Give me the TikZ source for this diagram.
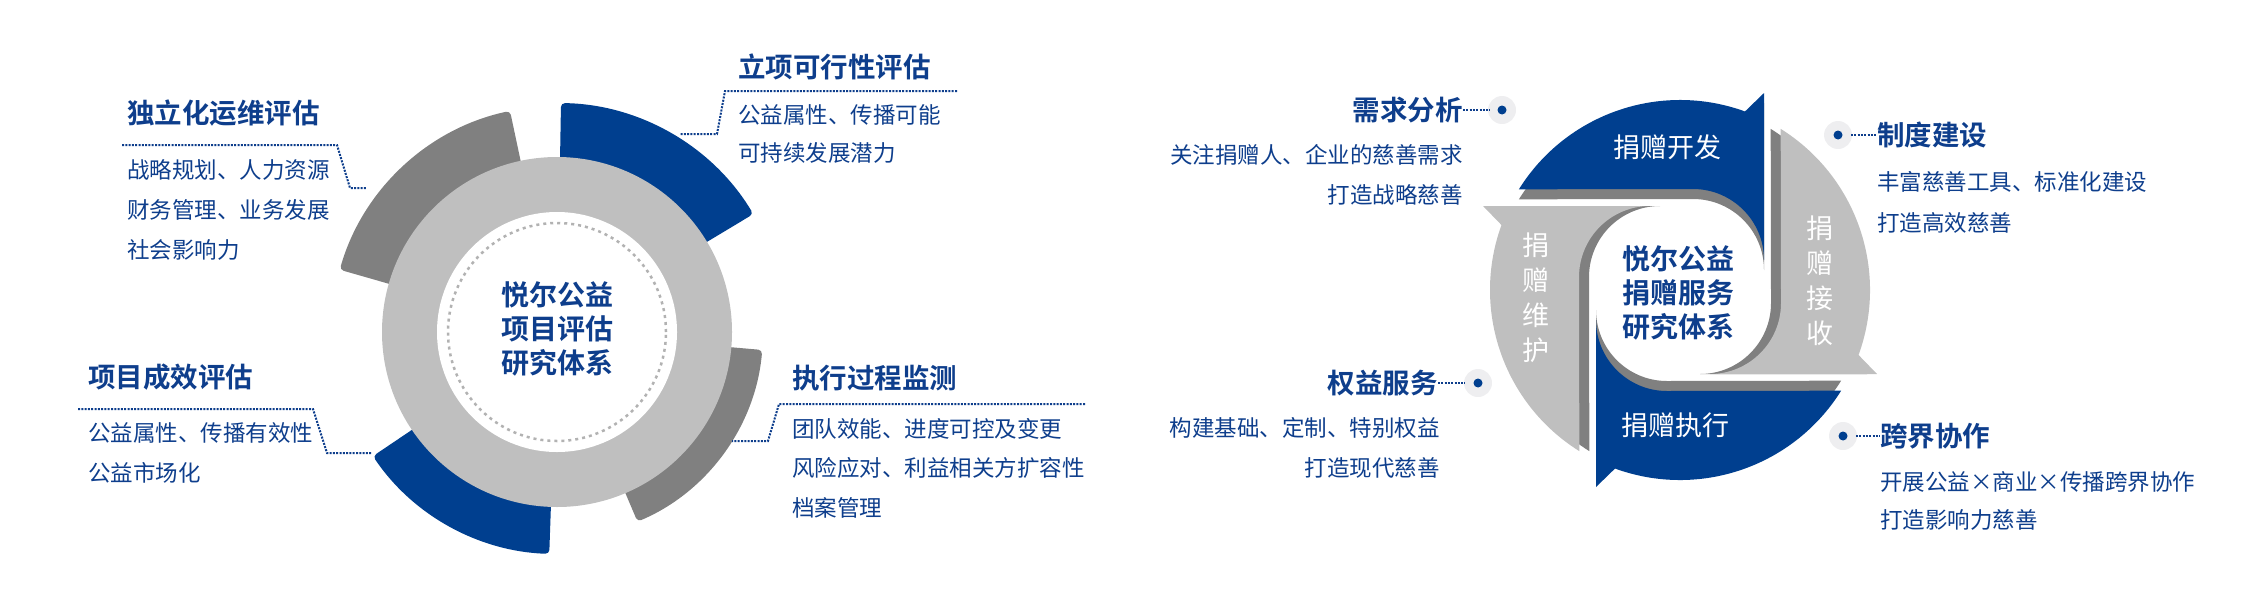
\documentclass[tikz,border=0pt]{standalone}
\usepackage{fontspec}
\setmainfont{Noto Sans CJK SC}[BoldFont={Noto Sans CJK SC Bold}]
\definecolor{sblue}{RGB}{0,63,143}
\definecolor{tblue}{RGB}{14,62,140}
\definecolor{dgray}{RGB}{128,128,128}
\definecolor{lgray}{RGB}{191,191,191}
\definecolor{halo}{RGB}{238,238,240}
\newcommand\pwpiece{(84,30) -- (84,197) -- (70:190) arc[start angle=70,end angle=148,radius=190] -- (13,101) arc[start angle=90,end angle=0,radius=71] -- cycle}
\tikzset{
 ttl/.style={font=\bfseries\fontsize{27.5}{30}\selectfont,text=tblue,inner sep=0pt},
 itm/.style={font=\fontsize{22.5}{26}\selectfont,text=tblue,inner sep=0pt},
 conn/.style={tblue,line width=2pt,dash pattern=on 2pt off 1.3pt},
 intext/.style={font=\fontsize{27}{35}\selectfont,text=white,inner sep=0pt,align=center},
}
\begin{document}
\begin{tikzpicture}[x=1pt,y=-1pt]
\useasboundingbox (0,0) rectangle (2245,592);
% ---------------- left circle
\begin{scope}[shift={(557,332)},y=1pt]
 \fill[sblue,rounded corners=4pt] (31:150) -- (31:229) arc[start angle=31,end angle=89,radius=229] -- (89:150) -- cycle;
 \fill[dgray,rounded corners=4pt] (102:150) -- (102:226) arc[start angle=102,end angle=164,radius=226] -- (164:150) -- cycle;
 \fill[dgray,rounded corners=4pt] (-5:150) -- (-5:206) arc[start angle=-5,end angle=-67,radius=206] -- (-67:150) -- cycle;
 \fill[sblue,rounded corners=4pt] (-146:150) -- (-146:222) arc[start angle=-146,end angle=-92,radius=222] -- (-92:150) -- cycle;
 \fill[lgray] (0,0) circle[radius=175];
 \fill[white] (0,0) circle[radius=120];
 \draw[lgray!80!gray,line width=2.5pt,dash pattern=on 3pt off 4pt] (0,0) circle[radius=109];
 \node[font=\bfseries\fontsize{28}{34}\selectfont,text=tblue,align=center] (lc) at (0,3) {悦尔公益\\项目评估\\研究体系};
\end{scope}
% left callouts
\node[ttl,anchor=west] (t1) at (127,113) {独立化运维评估};
\node[itm,anchor=west] (t1a) at (127,170) {战略规划、人力资源};
\node[itm,anchor=west] (t1b) at (127,210) {财务管理、业务发展};
\node[itm,anchor=west] (t1c) at (127,250) {社会影响力};
\coordinate (c1a) at (122,145); \coordinate (c1b) at (337,145); \coordinate (c1c) at (350,188); \coordinate (c1d) at (366,188);
\draw[conn] (c1a) -- (c1b) -- (c1c) -- (c1d);

\node[ttl,anchor=west] (t2) at (88,377) {项目成效评估};
\node[itm,anchor=west] (t2a) at (88,433) {公益属性、传播有效性};
\node[itm,anchor=west] (t2b) at (88,473) {公益市场化};
\coordinate (c2a) at (78,409); \coordinate (c2b) at (313,409); \coordinate (c2c) at (327,453); \coordinate (c2d) at (372,453);
\draw[conn] (c2a) -- (c2b) -- (c2c) -- (c2d);

\node[ttl,anchor=west] (t3) at (738,67) {立项可行性评估};
\node[itm,anchor=west] (t3a) at (738,115) {公益属性、传播可能};
\node[itm,anchor=west] (t3b) at (738,153) {可持续发展潜力};
\coordinate (c3a) at (957,91); \coordinate (c3b) at (725,91); \coordinate (c3c) at (717,134); \coordinate (c3d) at (680,134);
\draw[conn] (c3a) -- (c3b) -- (c3c) -- (c3d);

\node[ttl,anchor=west] (t4) at (792,378) {执行过程监测};
\node[itm,anchor=west] (t4a) at (792,429) {团队效能、进度可控及变更};
\node[itm,anchor=west] (t4b) at (792,468) {风险应对、利益相关方扩容性};
\node[itm,anchor=west] (t4c) at (792,508) {档案管理};
\coordinate (c4a) at (1085,404); \coordinate (c4b) at (779,404); \coordinate (c4c) at (768,441); \coordinate (c4d) at (732,441);
\draw[conn] (c4a) -- (c4b) -- (c4c) -- (c4d);

% ---------------- right pinwheel
\begin{scope}[shift={(1680,290)},y=1pt]
 \foreach \r in {0,-90,-180,-270}{
  \begin{scope}[rotate=\r]\fill[dgray,yshift=-10pt] \pwpiece;\end{scope}
 }
 \begin{scope}[rotate=0]\fill[sblue] \pwpiece;\end{scope}
 \begin{scope}[rotate=-90]\fill[lgray] \pwpiece;\end{scope}
 \begin{scope}[rotate=-180]\fill[sblue] \pwpiece;\end{scope}
 \begin{scope}[rotate=-270]\fill[lgray] \pwpiece;\end{scope}
 \node[font=\bfseries\fontsize{28}{34}\selectfont,text=tblue,align=center] (rc) at (-2,-3) {悦尔公益\\捐赠服务\\研究体系};
\end{scope}
\node[intext] (p1) at (1667,147) {捐赠开发};
\node[intext] (p3) at (1675,425) {捐赠执行};
\node[intext] (p2) at (1820,281) {捐\\赠\\接\\收};
\node[intext] (p4) at (1536,298) {捐\\赠\\维\\护};

% right callouts
\node[ttl,anchor=east] (r1) at (1463,110) {需求分析};
\node[itm,anchor=east] (r1a) at (1463,155) {关注捐赠人、企业的慈善需求};
\node[itm,anchor=east] (r1b) at (1463,195) {打造战略慈善};
\fill[halo] (1502,110) circle[radius=14]; \fill[sblue] (1502,110) circle[radius=4.5];
\coordinate (d1) at (1502,110);
\draw[conn] (r1.east) -- (1490,110);

\node[ttl,anchor=east] (r4) at (1438,383) {权益服务};
\node[itm,anchor=east] (r4a) at (1440,428) {构建基础、定制、特别权益};
\node[itm,anchor=east] (r4b) at (1440,468) {打造现代慈善};
\fill[halo] (1478,383) circle[radius=14]; \fill[sblue] (1478,383) circle[radius=4.5];
\draw[conn] (r4.east) -- (1465,383);

\node[ttl,anchor=west] (r2) at (1877,135) {制度建设};
\node[itm,anchor=west] (r2a) at (1877,182) {丰富慈善工具、标准化建设};
\node[itm,anchor=west] (r2b) at (1877,223) {打造高效慈善};
\fill[halo] (1838,135) circle[radius=14]; \fill[sblue] (1838,135) circle[radius=4.5];
\draw[conn] (1851,135) -- (r2.west);

\node[ttl,anchor=west] (r3) at (1880,436) {跨界协作};
\node[itm,anchor=west] (r3a) at (1880,482) {开展公益×商业×传播跨界协作};
\node[itm,anchor=west] (r3b) at (1880,520) {打造影响力慈善};
\fill[halo] (1843,436) circle[radius=14]; \fill[sblue] (1843,436) circle[radius=4.5];
\draw[conn] (1856,436) -- (r3.west);
\end{tikzpicture}
\end{document}
